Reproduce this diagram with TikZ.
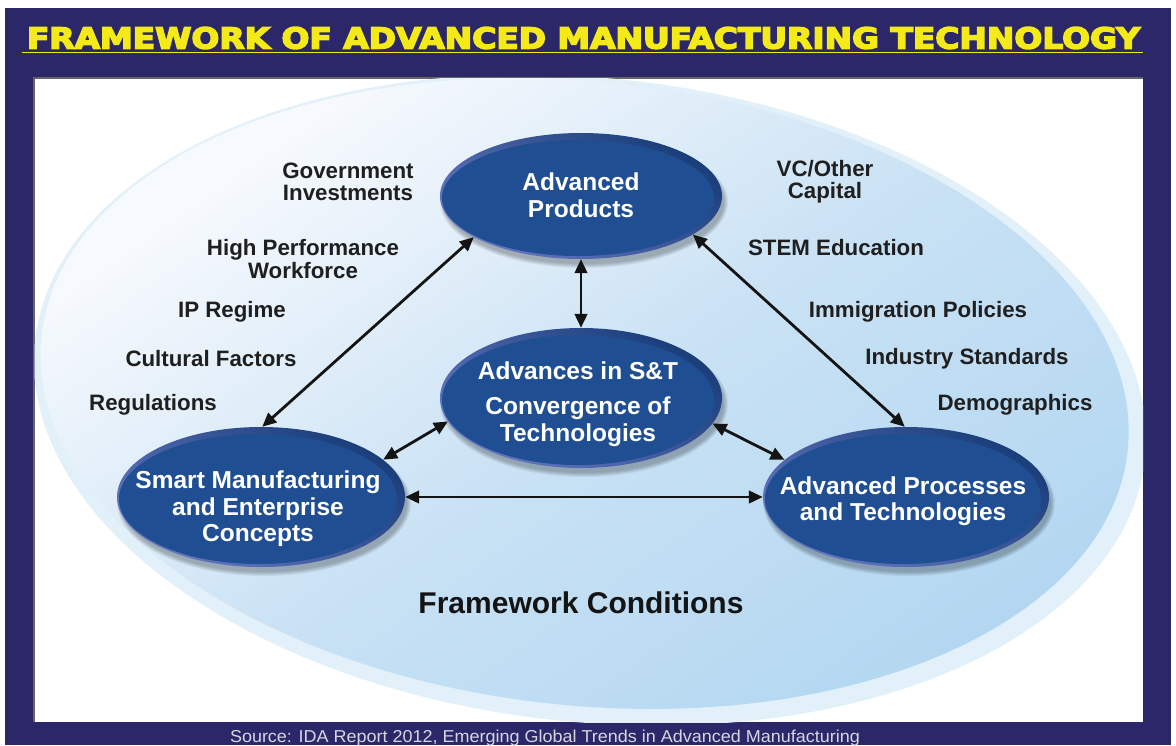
\documentclass[tikz,border=0pt]{standalone}
\usepackage{fontspec}
\usepackage{graphicx}
\setmainfont{Liberation Sans}
\newfontfamily\titlefont[FakeBold=5]{DejaVu Sans Bold}
\usetikzlibrary{arrows.meta,shapes.geometric}

\definecolor{navy}{RGB}{43,39,104}
\definecolor{titleyellow}{RGB}{244,234,24}
\definecolor{srcgrey}{RGB}{214,214,226}
\definecolor{bubblefill}{RGB}{31,78,146}
\definecolor{bubblerim}{RGB}{100,118,192}
\definecolor{bubbledark}{RGB}{26,62,122}
\definecolor{fieldlight}{RGB}{246,249,253}
\definecolor{fieldmid}{RGB}{200,225,244}
\definecolor{fielddeep}{RGB}{156,204,238}
\definecolor{fieldrim}{RGB}{226,240,250}

\pgfdeclarehorizontalshading{field}{100bp}{%
  color(0bp)=(fieldlight); color(28bp)=(fieldlight);
  color(52bp)=(fieldmid); color(100bp)=(fielddeep)}

% one raised blue bubble: name, centre x, centre y, x radius, y radius
\newcommand\drawbubble[5]{%
  \foreach \k in {1,...,5}
    \fill[black, opacity=0.06] (#2+3,#3+6) ellipse [x radius=#4+\k-2, y radius=#5+\k-2];
  \shade[left color=bubbledark, right color=bubblerim, shading angle=-35]
    (#2,#3) ellipse [x radius=#4, y radius=#5];
  \fill[bubblefill] (#2-3,#3+2) ellipse [x radius=#4-5, y radius=#5-5];
  \node[bubble, minimum width=2*#4 pt, minimum height=2*#5 pt] (#1) at (#2,#3) {};
}

\begin{document}
\begin{tikzpicture}[x=1pt,y=-1pt,
  bubble/.style={ellipse, inner sep=0pt},
  sidelabel/.style={font=\fontsize{22.3}{22.3}\selectfont\bfseries, text=black!88,
    align=center, inner sep=0pt},
  bublabel/.style={font=\fontsize{24.5}{26.5}\selectfont\bfseries, text=white,
    align=center, inner sep=0pt},
  link/.style={line width=2.8pt, draw=black!92,
    {Triangle[length=14pt,width=12.5pt]}-{Triangle[length=14pt,width=12.5pt]}}]

\useasboundingbox (0,0) rectangle (1176,745);
\fill[white] (0,0) rectangle (1176,745);

% navy frame and white panel
\fill[navy] (5,8) rectangle (1171,745);
\fill[black!60] (33,77) rectangle (1143,722);
\fill[white] (34.5,78.5) rectangle (1143,722);

% title with its rule
\node (title) at (583.5,38) {\resizebox{1113pt}{21.5pt}{\titlefont\color{titleyellow}FRAMEWORK OF ADVANCED MANUFACTURING TECHNOLOGY}};
\coordinate (ruleL) at (22,52.5);
\coordinate (ruleR) at (1143,52.5);
\draw[titleyellow, line width=1.6pt] (ruleL) -- (ruleR);

% the framework-conditions field
\begin{scope}
  \clip (34.5,78.5) rectangle (1143,722);
  \fill[fieldrim, rotate around={-6:(590,400)}] (590,400) ellipse [x radius=558, y radius=322];
  \shade[shading=field, shading angle=-55, rotate around={-6:(590,400)}]
    (584,394) ellipse [x radius=546, y radius=312];
\end{scope}

% bubbles
\drawbubble{prod}{581}{196}{141}{63}
\drawbubble{snt}{581}{398}{141}{70}
\drawbubble{smart}{261}{497}{144}{70}
\drawbubble{proc}{906}{497}{143}{70}

% links
\draw[link] (prod.south) -- (snt.north);
\draw[link] (prod.201) -- (smart.89);
\draw[link] (prod.341) -- (proc.91);
\draw[link] (snt.190) -- (smart.17);
\draw[link] (snt.349) -- (proc.163);
\draw[link] (smart.east) -- (proc.west);

% bubble texts
\node[bublabel] (prodT) at (581,195) {Advanced\\Products};
\node[bublabel] (sntT) at (578,404) {Advances in S\&T\\[9pt]Convergence of\\Technologies};
\node[bublabel] (smartT) at (258,509) {Smart Manufacturing\\and Enterprise\\Concepts};
\node[bublabel] (procT) at (903,501) {Advanced Processes\\and Technologies};

% framework conditions, left side
\node[sidelabel] (gov) at (348,182) {Government\\Investments};
\node[sidelabel] (hpw) at (303,259) {High Performance\\Workforce};
\node[sidelabel] (ip) at (232,312) {IP Regime};
\node[sidelabel] (cult) at (211,359) {Cultural Factors};
\node[sidelabel] (reg) at (153,405) {Regulations};

% framework conditions, right side
\node[sidelabel] (vc) at (825,182) {VC/Other\\Capital};
\node[sidelabel] (stem) at (836,248) {STEM Education};
\node[sidelabel] (immig) at (918,312) {Immigration Policies};
\node[sidelabel] (indstd) at (967,359) {Industry Standards};
\node[sidelabel] (demo) at (1015,405) {Demographics};

\node[font=\fontsize{30}{30}\selectfont\bfseries, text=black!92, inner sep=0pt] (fc) at (581,603) {Framework Conditions};

% source line
\node[anchor=base, inner sep=0pt] (src) at (545,742.5) {\resizebox{630pt}{12.5pt}{\color{srcgrey}Source: IDA Report 2012, Emerging Global Trends in Advanced Manufacturing}};
\end{tikzpicture}
\end{document}
